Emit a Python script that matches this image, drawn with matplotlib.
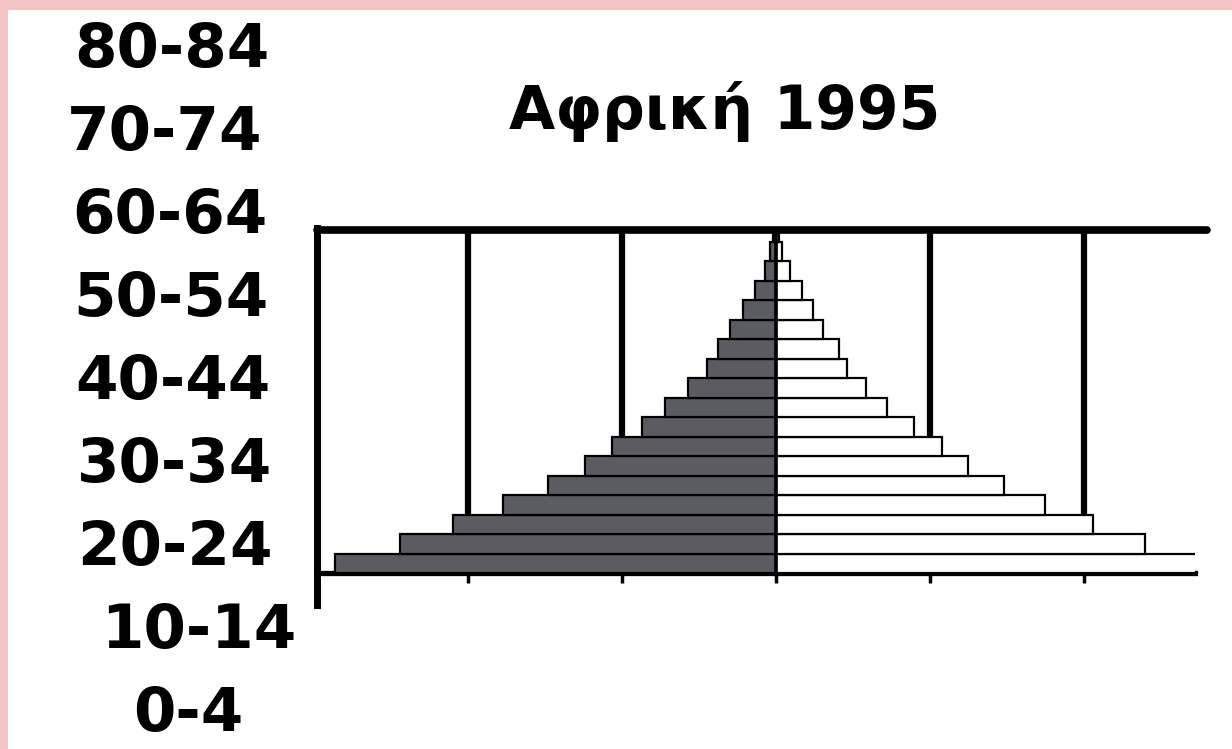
import matplotlib
matplotlib.use("Agg")
import matplotlib.pyplot as plt
import numpy as np
from matplotlib.patches import Rectangle

# ---------------- data ----------------
age_groups = ["0-4", "5-9", "10-14", "15-19", "20-24", "25-29", "30-34", "35-39",
              "40-44", "45-49", "50-54", "55-59", "60-64", "65-69", "70-74",
              "75-79", "80-84", "85+"]
male = [8.59, 7.32, 6.29, 5.32, 4.44, 3.72, 3.19, 2.61, 2.16, 1.71, 1.34, 1.13,
        0.90, 0.64, 0.41, 0.21, 0.12, 0.06]
female = [8.70, 7.19, 6.18, 5.24, 4.44, 3.74, 3.23, 2.69, 2.16, 1.75, 1.38, 1.23,
          0.92, 0.72, 0.51, 0.27, 0.12, 0.06]
side_labels = ["0-4", "10-14", "20-24", "30-34", "40-44", "50-54", "60-64", "70-74", "80-84"]
title = "Αφρική 1995"
grid_values = [-6, -3, 3, 6]
tick_values = [-6, -3, 0, 3, 6]

# ---------------- figure ----------------
W, H = 1232, 749
fig = plt.figure(figsize=(W / 100, H / 100), dpi=100, facecolor="#f5c4c4")
fig.patches.append(Rectangle((8 / W, 0), 1 - 8 / W, 1 - 10 / H, transform=fig.transFigure,
                             facecolor="white", edgecolor="none", zorder=-10))

def fx(px):
    return px / W

def fy(py):
    return 1 - py / H

ax = fig.add_axes([fx(317), fy(573), fx(1195) - fx(317), fy(230) - fy(573)])
ax.set_facecolor("none")
y = np.arange(len(age_groups))
ax.barh(y, [-m for m in male], height=1.0, color="#5b5b62", edgecolor="black",
        linewidth=1.6, zorder=3)
ax.barh(y, female, height=1.0, color="white", edgecolor="black",
        linewidth=1.6, zorder=3)
for g in grid_values:
    ax.axvline(g, color="black", linewidth=4.5, zorder=1)
ax.axvline(0, color="black", linewidth=2.6, zorder=4)

ax.set_xlim(-8.94, 8.16)
ax.set_ylim(-0.5, 17.09)
ax.set_xticks(tick_values)
ax.set_xticklabels([])
ax.set_yticks([])
ax.tick_params(axis="x", direction="out", length=7, width=2.5, color="black")
for s in ["right", "top"]:
    ax.spines[s].set_visible(False)
ax.spines["bottom"].set_linewidth(3.8)
ax.spines["left"].set_linewidth(5)
ax.spines["left"].set_bounds(-2.15, 17.2)
ax.plot([0, 1.014], [1, 1], transform=ax.transAxes, color="black", linewidth=5.5,
        clip_on=False, solid_capstyle="round", zorder=5)

# title
fig.text(fx(725), fy(112), title, ha="center", va="center", fontsize=43,
         fontweight="bold", family="DejaVu Sans", color="black")

# left column of age labels
label_x = [188, 199, 175, 175, 173, 171, 170, 165, 172]
lab_ax = fig.add_axes([0, fy(715), 1, fy(50) - fy(715)])
lab_ax.set_xlim(0, W)
lab_ax.set_ylim(0, len(side_labels) - 1)
lab_ax.axis("off")
for i, (lab, lx) in enumerate(zip(side_labels, label_x)):
    lab_ax.text(lx, i, lab, ha="center", va="center", fontsize=44,
                fontweight="bold", family="DejaVu Sans", color="black")

fig.savefig("out.png", dpi=100, facecolor=fig.get_facecolor())
